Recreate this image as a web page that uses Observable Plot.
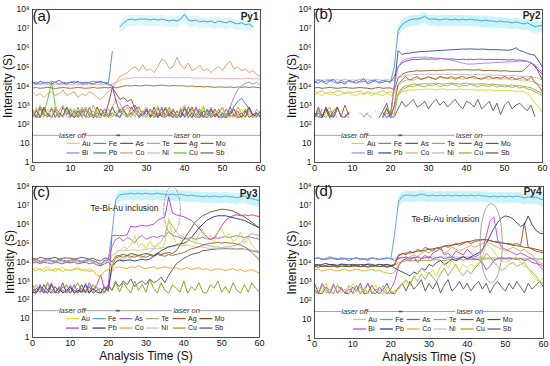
<!DOCTYPE html>
<html><head><meta charset="utf-8">
<script src="https://cdn.jsdelivr.net/npm/d3@7"></script>
<script src="https://cdn.jsdelivr.net/npm/@observablehq/plot@0.6"></script>
<style>
html,body{margin:0;padding:0;background:#fff;}
#wrap{position:relative;width:550px;height:366px;overflow:hidden;font-family:"Liberation Sans",Arial,sans-serif;}
</style></head><body><div id="wrap"></div>
<script>
// ---- categories / tick labels ----
const elements = ["Au","Fe","As","Te","Ag","Mo","Bi","Pb","Co","Ni","Cu","Sb"];
const panelLabels = ["(a)","(b)","(c)","(d)"];
const sampleNames = ["Py1","Py2","Py3","Py4"];
const xTicks = [0,10,20,30,40,50,60];
const yTicks = [1,10,1e2,1e3,1e4,1e5,1e6,1e7,1e8];
const times = d3.range(0,61,1); // analysis time grid (s)

// ---- series values: log10 intensity (cps) at each second, null = below detection ----
// Py1
const a_Au=[2.4,2.9,2.5,2.35,2.8,2.4,3.0,2.5,2.35,2.7, 2.9,2.4,2.6,2.35,2.9,2.5,2.4,2.8,2.35,2.6, 2.4,2.35,2.6,2.9,2.5,2.35,2.8,2.4,2.9,2.5, 2.35,2.7,2.4,3.0,2.5,2.35,2.8,2.6,2.35,2.9, 2.5,2.4,2.8,2.35,2.6,3.0,2.4,2.35,2.7,2.5, 2.9,2.4,2.35,2.6,2.4,2.8,2.35,2.5,2.4,2.35, 2.6];
const a_Fe=[4.15,4.2,4.1,4.2,4.15,4.25,4.2,4.1,4.2,4.15, 4.2,4.25,4.15,4.2,4.1,4.2,4.25,4.2,4.15,4.2, 4.15,5.8,null,7.1,7.3,7.45,7.5,7.45,7.5,7.5, 7.5,7.45,7.5,7.45,7.5,7.45,7.4,7.45,7.4,7.5, 7.75,7.45,7.4,7.45,7.35,7.4,7.35,7.4,7.3,7.4, 7.35,7.3,7.4,7.3,7.25,7.3,7.2,7.25,7.1,null, null];
const a_As=[4.2,4.1,4.25,4.15,4.2,4.1,4.2,4.3,4.15,4.1, 4.2,4.15,4.25,4.1,4.2,4.15,4.1,4.2,4.25,4.15, 4.1,4.0,3.2,2.6,2.9,3.0,2.8,3.0,2.6,2.4, 2.8,2.35,2.6,2.9,2.4,2.35,2.7,2.5,2.35,2.8, 2.4,2.6,2.35,2.9,2.5,2.35,2.7,2.4,2.8,2.35, 2.6,2.4,2.9,2.5,2.35,2.4,2.7,2.35,2.5,2.6, 2.4];
const a_Te=[2.8,2.4,3.0,2.6,2.35,2.9,2.4,2.7,3.0,2.4, 2.35,2.8,2.5,2.9,2.4,2.35,3.0,2.6,2.4,2.8, 2.5,2.9,3.3,3.1,2.7,2.9,2.5,2.8,2.35,2.6, 2.9,2.4,2.7,2.35,2.8,2.5,2.9,2.4,2.35,2.7, 3.0,2.5,2.35,2.8,2.4,2.7,2.5,2.9,2.35,2.6, 2.4,2.8,2.5,2.35,2.9,2.6,2.4,2.7,2.35,2.8, 2.5];
const a_Ag=[2.35,2.7,2.4,2.9,2.5,2.35,2.8,2.6,2.4,2.9, 2.5,2.35,2.7,2.4,2.8,2.6,2.35,2.9,2.5,2.4, 3.1,3.9,3.6,3.3,3.4,3.2,3.3,2.8,2.9,2.5, 2.7,2.4,2.9,2.35,2.6,2.8,2.4,2.7,2.5,2.35, 2.8,2.6,2.9,2.4,2.35,2.7,2.5,2.8,2.4,2.6, 2.9,2.35,2.5,2.8,2.4,2.6,2.35,2.9,2.5,2.4, 2.7];
const a_Mo=[3.9,3.92,3.88,3.9,3.93,3.9,3.87,3.9,3.92,3.9, 3.88,3.9,3.93,3.9,3.88,3.9,3.92,3.89,3.9,3.92, 3.9,3.95,3.9,3.95,4.0,4.02,4.0,4.03,4.0,4.02, 4.05,4.02,4.0,4.03,4.05,4.02,4.0,4.03,4.0,4.02, 4.0,3.98,4.0,3.97,3.98,3.95,3.97,3.95,3.93,3.95, 3.95,3.93,3.95,3.92,3.95,3.93,3.95,3.92,3.95,3.93, 3.9];
const a_Bi=[2.5,2.35,2.8,2.4,2.6,2.35,2.9,2.5,2.4,2.7, 2.35,2.6,2.4,2.8,2.35,2.5,2.7,2.4,2.35,2.6, 2.8,2.4,2.6,2.35,2.7,2.5,2.4,2.8,2.35,2.6, 2.4,2.7,2.35,2.5,2.8,2.4,2.6,2.35,2.7,2.4, 2.5,2.35,2.8,2.4,2.6,2.35,2.7,2.4,2.5,2.35, 2.6,2.5,2.9,3.4,3.8,4.0,4.15,4.2,4.1,4.2, 4.0];
const a_Pb=[2.6,2.35,2.9,2.5,2.4,2.8,2.35,2.6,2.4,2.9, 2.4,2.7,2.35,2.6,2.9,2.4,2.5,2.35,2.8,2.5, 2.4,2.9,2.5,2.35,2.7,2.4,2.6,2.8,2.35,2.5, 2.8,2.4,2.6,2.35,2.9,2.4,2.5,2.8,2.35,2.6, 2.4,2.9,2.5,2.35,2.7,2.4,2.8,2.35,2.5,2.6, 2.4,2.35,2.6,2.9,3.2,3.35,3.1,2.8,2.5,2.6, 2.4];
const a_Co=[3.7,3.5,3.6,3.4,3.6,3.7,3.5,3.6,3.8,3.5, 3.6,3.7,3.4,3.6,3.5,3.7,3.6,3.4,3.3,3.5, 3.7,3.9,4.2,4.5,4.6,4.7,4.9,5.0,4.8,5.1, 4.8,4.9,4.7,5.0,5.4,5.3,4.9,5.0,5.5,5.1, 4.9,5.2,4.8,4.9,5.1,4.8,4.9,4.7,4.9,5.0, 4.8,5.1,5.3,4.9,5.0,4.8,4.9,4.7,4.8,4.6, 4.5];
const a_Ni=[4.05,4.1,4.05,4.1,4.08,4.05,4.1,4.05,4.1,4.08, 4.05,4.1,4.08,4.05,4.1,4.05,4.08,4.1,4.05,4.1, 4.05,4.1,4.2,4.3,4.35,4.4,4.42,4.45,4.43,4.45, 4.45,4.42,4.45,4.43,4.45,4.42,4.45,4.43,4.42,4.45, 4.43,4.45,4.42,4.4,4.42,4.4,4.42,4.4,4.38,4.4, 4.4,4.38,4.4,4.38,4.4,4.37,4.38,4.4,4.37,4.38, 4.35];
const a_Cu=[2.4,2.8,2.35,2.6,3.3,4.2,3.0,2.5,2.35,2.8, 2.6,2.4,2.9,2.35,2.7,2.5,2.35,2.8,2.4,2.6, 2.35,2.9,2.5,2.4,2.8,2.35,2.6,2.4,2.9,2.5, 2.35,2.7,2.4,2.8,2.6,2.35,2.9,2.5,2.4,2.7, 2.35,2.6,2.8,2.4,2.5,2.9,2.35,2.6,2.4,2.8, 2.5,2.35,2.7,2.4,2.6,2.35,2.8,2.5,2.35,2.6, 2.4];
const a_Sb=[2.7,2.4,2.35,2.8,2.5,2.4,2.7,2.35,2.9,2.5, 2.8,2.35,2.5,2.7,2.4,2.9,2.35,2.6,2.5,2.8, 2.35,2.6,2.4,2.8,2.5,2.35,2.9,2.6,2.4,2.7, 2.5,2.8,2.35,2.6,2.4,2.9,2.5,2.35,2.7,2.4, 2.9,2.35,2.6,2.5,2.8,2.4,2.35,2.7,2.6,2.4, 2.35,2.8,2.4,2.5,2.7,2.35,2.6,2.9,2.4,2.5, 2.35];
// Py2
const b_Au=[3.55,3.6,3.5,3.65,3.55,3.6,3.5,3.55,3.65,3.6, 3.55,3.5,3.6,3.55,3.65,3.5,3.6,3.55,3.5,3.6, 3.55,3.3,3.5,3.7,3.75,3.8,3.78,3.82,3.8,3.85, 3.82,3.85,3.8,3.83,3.85,3.8,3.82,3.8,3.85,3.82, 3.8,3.83,3.8,3.78,3.8,3.77,3.8,3.78,3.75,3.78, 3.75,3.77,3.75,3.72,3.73,3.7,3.6,3.4,3.1,2.9, 2.6];
const b_Fe=[4.2,4.3,4.2,4.25,4.3,4.2,4.15,4.3,4.2,4.25, 4.2,4.3,4.2,4.25,4.2,4.3,4.25,4.2,4.3,4.25, 4.2,5.0,6.9,7.2,7.35,7.45,7.5,7.5,7.55,7.65, 7.5,7.5,7.5,7.45,7.5,7.5,7.45,7.5,7.45,7.5, 7.45,7.5,7.45,7.45,7.4,7.45,7.4,7.4,7.35,7.4, 7.35,7.35,7.3,7.35,7.3,7.25,7.3,7.2,7.1,7.15, 7.15];
const b_As=[4.2,4.15,4.3,4.1,4.25,4.35,4.15,4.2,4.1,4.3, 4.2,4.15,4.25,4.4,4.1,4.2,4.3,4.15,4.2,4.25, 4.2,4.5,5.0,5.2,5.3,5.35,5.4,5.38,5.4,5.42, 5.4,5.42,5.4,5.43,5.42,5.4,5.42,5.4,5.38,5.4, 5.38,5.4,5.38,5.4,5.4,5.38,5.4,5.38,5.4,5.38, 5.38,5.36,5.38,5.35,5.36,5.33,5.3,5.2,5.0,4.8, 4.6];
const b_Te=[2.35,2.8,2.5,2.35,2.7,2.4,null,null,null,2.6, null,null,null,null,2.5,2.35,null,null,null,2.8, 2.4,2.9,3.5,3.8,3.9,4.0,3.95,4.05,4.0,3.95, 4.05,4.0,4.1,3.95,4.05,4.0,4.1,4.05,3.95,4.05, 4.0,4.08,4.02,3.95,4.05,4.0,3.98,4.05,3.95,4.0, 3.95,4.0,3.92,3.98,3.9,3.95,3.85,3.8,3.7,3.6, 3.5];
const b_Ag=[2.35,2.9,2.4,2.8,2.35,2.7,2.9,2.4,3.0,2.5, null,null,null,2.4,2.6,null,null,null,2.35,2.8, 2.35,3.0,4.1,4.3,4.5,4.3,4.4,4.5,4.35,4.4, 4.5,4.4,4.35,4.5,4.45,4.4,4.5,4.35,4.45,4.5, 4.4,4.45,4.5,4.4,4.35,4.45,4.5,4.4,4.45,4.4, 4.5,4.4,4.45,4.35,4.4,4.45,4.3,4.5,4.2,4.0, 3.7];
const b_Mo=[3.9,3.92,3.88,3.9,3.93,3.9,3.88,3.9,3.92,3.9, 3.88,3.9,3.92,3.9,3.88,3.85,3.9,3.92,3.88,3.9, 3.9,3.8,4.4,4.6,4.7,4.75,4.77,4.8,4.78,4.8, 4.8,4.82,4.8,4.83,4.82,4.85,4.83,4.85,4.84,4.85, 4.85,4.84,4.83,4.85,4.82,4.8,4.82,4.8,4.8,4.78, 4.8,4.78,4.76,4.77,4.75,4.8,5.0,5.2,5.1,4.7, 4.3];
const b_Bi=[2.5,2.35,2.8,null,null,2.6,2.35,null,null,2.4, null,null,null,null,null,2.5,null,null,2.35,2.6, 2.35,4.0,5.0,5.3,5.4,5.45,5.48,5.5,5.5,5.52, 5.5,5.48,5.46,5.45,5.42,5.4,5.35,5.3,5.25,5.2, 5.15,5.15,5.15,5.17,5.18,5.2,5.2,5.22,5.23,5.24, 5.25,5.26,5.27,5.28,5.3,5.3,5.28,5.2,5.1,4.9, 4.7];
const b_Pb=[2.6,2.4,2.35,2.9,2.5,2.35,2.8,null,2.4,2.6, null,null,null,null,null,null,null,null,2.6,2.35, 2.5,4.0,5.85,5.65,5.7,5.72,5.75,5.78,5.8,5.8, 5.82,5.83,5.85,5.86,5.87,5.88,5.9,5.9,5.92,5.93, 5.93,5.94,5.93,5.92,5.93,5.92,5.9,5.9,5.9,5.89, 5.88,5.87,5.9,6.0,5.85,5.8,5.7,5.65,5.6,5.3, 5.0];
const b_Co=[3.7,3.65,3.75,3.6,3.7,3.65,3.75,3.7,3.6,3.7, 3.65,3.7,3.75,3.6,3.7,3.65,3.6,3.7,3.75,3.65, 3.7,3.6,4.0,4.2,4.3,4.35,4.3,4.4,4.35,4.4, 4.45,4.4,4.35,4.45,4.4,4.42,4.38,4.45,4.4,4.35, 4.4,4.45,4.4,4.38,4.42,4.4,4.35,4.4,4.38,4.35, 4.38,4.35,4.32,4.35,4.3,4.32,4.28,4.25,4.2,4.1, 4.0];
const b_Ni=[4.3,4.35,4.3,4.32,4.35,4.3,4.33,4.3,4.35,4.3, 4.32,4.3,4.35,4.3,4.33,4.3,4.35,4.32,4.3,4.33, 4.3,4.3,4.45,4.5,4.55,4.57,4.6,4.6,4.62,4.6, 4.62,4.6,4.63,4.6,4.62,4.6,4.62,4.6,4.61,4.6, 4.6,4.58,4.6,4.58,4.6,4.57,4.58,4.56,4.57,4.55, 4.55,4.54,4.55,4.53,4.52,4.5,4.5,4.48,4.45,4.4, 4.3];
const b_Cu=[2.4,2.7,2.35,2.6,2.9,2.4,null,null,2.5,2.35, null,null,2.6,2.4,null,null,2.7,null,2.4,2.9, 2.6,2.5,3.6,3.9,4.0,4.05,4.1,4.08,4.1,4.12, 4.1,4.12,4.15,4.12,4.1,4.13,4.15,4.12,4.1,4.12, 4.15,4.12,4.1,4.1,4.12,4.1,4.08,4.1,4.07,4.05, 4.05,4.03,4.05,4.0,4.02,3.98,3.95,3.9,3.8,3.7, 3.6];
const b_Sb=[2.35,2.6,2.4,2.8,2.35,2.5,2.9,2.4,2.35,2.6, null,null,null,null,null,null,null,2.35,2.7,3.1, 2.35,2.4,2.8,3.2,2.9,3.1,3.3,2.9,3.0,3.2, 2.8,3.1,3.3,3.0,3.2,2.9,3.1,3.3,3.0,2.8, 3.2,3.1,2.9,3.3,2.8,3.0,3.2,2.7,3.1,2.5, 3.0,3.2,2.8,3.0,3.1,2.9,2.7,3.0,2.4,null, null];
// Py3
const c_Au=[3.6,3.7,3.55,3.65,3.75,3.6,3.5,3.65,3.7,3.6, 3.55,3.65,3.7,3.6,3.5,3.65,3.55,3.3,3.2,3.5, 3.6,3.8,4.4,4.6,4.8,4.7,4.9,5.4,4.8,5.0, 4.7,5.1,4.8,4.9,4.7,5.0,6.3,5.4,5.0,4.9, 4.8,5.1,5.3,5.0,5.5,5.7,5.2,5.4,5.0,5.6, 5.8,5.3,5.5,5.1,5.2,5.6,5.0,5.3,4.9,4.7, 4.5];
const c_Fe=[4.05,4.1,4.0,4.05,4.1,4.05,4.0,4.1,4.05,4.0, 4.05,4.1,4.05,4.0,4.05,4.1,4.05,4.0,3.9,4.05, 4.1,5.5,7.3,7.55,7.6,7.6,7.65,7.6,7.65,7.6, 7.65,7.6,7.6,7.65,7.6,7.6,7.55,7.6,7.55,7.6, 7.55,7.5,7.55,7.5,7.5,7.45,7.5,7.45,7.5,7.45, 7.45,7.5,7.45,7.45,7.4,7.45,7.5,7.4,7.35,7.3, 7.25];
const c_As=[4.1,4.15,4.05,4.1,4.2,4.1,4.05,4.15,4.1,4.05, 4.1,4.15,4.1,4.05,4.1,4.15,4.05,4.0,3.8,4.1, 4.1,4.8,5.2,5.3,5.1,5.3,5.2,5.0,5.3,5.4, 5.2,5.3,5.35,5.3,5.4,5.35,5.6,5.4,5.35,5.3, 5.2,5.25,5.3,5.2,5.25,5.3,5.25,5.2,5.3,5.25, 5.3,5.35,5.3,5.35,5.4,5.35,5.3,5.35,5.3,5.25, 5.2];
const c_Te=[2.4,2.8,2.35,2.6,2.9,2.4,2.35,2.7,2.5,2.35, 2.8,2.4,2.6,2.35,2.9,2.5,2.4,2.7,2.35,2.6, 2.4,3.6,4.0,4.2,4.1,4.3,4.2,4.4,4.3,4.2, 4.4,4.5,4.7,4.9,5.1,5.4,6.2,5.9,5.6,5.4, 5.3,5.2,5.1,5.0,5.0,4.9,4.9,4.85,4.8,4.8, 4.75,4.8,4.8,4.85,4.9,5.0,5.2,5.4,5.5,5.45, 5.4];
const c_Ag=[3.95,4.0,3.9,4.0,3.95,3.9,4.0,3.95,3.9,4.0, 3.95,4.0,3.9,3.95,4.0,3.9,3.95,3.85,3.8,3.9, 4.0,3.8,4.2,4.3,4.25,4.35,4.3,4.25,4.35,4.3, 4.25,4.35,4.3,4.4,4.35,4.3,4.4,4.35,4.4,4.45, 4.5,4.6,4.7,4.75,4.8,4.9,4.95,5.0,5.0,5.05, 5.0,5.05,5.0,5.0,4.95,4.9,4.8,4.7,4.5,4.3, 4.1];
const c_Mo=[4.2,4.15,4.25,4.2,4.15,4.2,4.25,4.15,4.2,4.22, 4.2,4.15,4.2,4.25,4.2,4.15,4.2,4.1,4.05,4.2, 4.2,4.0,4.3,4.35,4.4,4.35,4.45,4.4,4.35,4.4, 4.45,4.4,4.35,4.45,4.4,4.45,4.5,4.45,4.6,4.9, 5.2,5.5,5.8,6.1,6.3,6.45,6.55,6.65,6.7,6.75, 6.8,6.78,6.75,6.7,6.6,6.5,6.4,6.25,6.1,5.95, 5.8];
const c_Bi=[2.6,2.4,2.8,2.35,2.5,2.9,2.4,2.35,2.7,2.5, 2.35,2.8,2.4,2.6,2.35,2.9,2.5,2.8,3.3,2.6, 2.5,5.4,5.4,5.4,5.4,5.45,5.9,5.85,5.9,5.95, 5.9,5.95,6.0,6.2,6.3,6.4,7.45,6.6,6.5,6.45, 6.4,6.3,6.2,6.0,5.8,5.55,5.35,5.2,5.25,5.6, 5.9,6.2,6.35,6.45,6.5,6.45,6.5,6.45,6.5,6.45, 6.4];
const c_Pb=[2.4,2.35,2.7,2.5,2.35,2.8,2.4,2.6,2.35,2.5, 2.7,2.35,2.5,2.4,2.8,2.35,2.6,2.4,2.35,2.7, 2.5,3.8,4.0,4.1,4.05,4.1,4.1,4.05,4.1,4.15, 4.1,4.15,4.3,4.45,4.6,4.7,4.8,4.85,4.9,4.95, 5.0,5.1,5.3,5.55,5.8,6.0,6.2,6.3,6.4,6.45, 6.45,6.45,6.4,6.35,6.3,6.25,6.2,6.1,6.0,5.9, 5.8];
const c_Co=[3.6,3.55,3.65,3.5,3.6,3.55,3.65,3.6,3.5,3.6, 3.55,3.6,3.65,3.55,3.6,3.5,3.55,3.3,3.25,3.5, 3.6,3.5,3.7,3.75,3.7,3.65,3.75,3.7,3.8,3.7, 3.65,3.7,3.75,3.65,3.7,3.75,3.7,3.65,3.7,3.6, 3.65,3.7,3.6,3.65,3.7,3.6,3.65,3.55,3.6,3.65, 3.6,3.55,3.6,3.65,3.55,3.6,3.5,3.55,3.6,3.5, 3.4];
const c_Ni=[4.0,4.02,3.98,4.0,4.03,4.0,3.98,4.02,4.0,3.98, 4.0,4.02,4.0,3.98,4.0,4.02,3.98,3.95,3.9,4.0, 4.0,4.3,4.55,4.6,4.62,4.6,4.63,4.65,4.6,4.65, 4.68,4.7,4.72,4.7,4.75,4.78,4.8,4.82,4.85,4.88, 4.9,4.88,4.85,4.82,4.8,4.78,4.75,4.73,4.72,4.7, 4.7,4.68,4.7,4.68,4.66,4.65,4.66,4.64,4.62,4.6, 4.6];
const c_Cu=[2.8,2.4,2.6,2.35,2.9,2.5,2.35,2.7,2.4,2.8, 2.35,2.6,2.9,2.4,2.5,2.35,2.8,2.6,2.4,2.35, 2.7,2.5,3.0,2.4,2.9,2.6,2.35,3.0,2.5,2.8, 2.4,3.1,2.6,2.35,2.9,2.5,2.35,2.8,2.6,2.4, 3.0,2.35,2.7,2.5,2.9,2.4,2.35,2.8,2.6,3.0, 2.4,2.7,2.35,2.9,2.5,2.35,2.8,2.4,2.9,2.6, 2.4];
const c_Sb=[2.35,2.6,2.4,2.8,2.5,2.35,2.7,2.4,2.9,2.35, 2.6,2.5,2.35,2.8,2.4,2.7,2.35,2.5,2.6,2.4, 2.8,2.5,2.9,2.7,3.0,2.8,3.1,2.7,2.9,3.0, 2.8,3.1,2.9,3.0,3.2,2.9,3.3,3.6,3.9,4.05, 4.2,4.3,4.4,4.45,4.5,4.6,4.62,4.65,4.68,4.7, 4.7,4.72,4.7,4.7,4.68,4.7,4.68,4.65,4.6,4.55, 4.5];
// Py4
const d_Au=[2.35,2.7,2.4,2.9,2.5,2.35,2.8,2.4,2.6,2.35, 2.9,2.5,2.4,2.7,2.35,2.6,2.8,2.4,2.35,2.7, 2.5,2.4,2.6,2.9,3.0,2.8,3.2,3.4,3.7,3.5, 3.4,3.6,3.3,3.8,4.0,3.7,4.1,3.8,3.6,3.9, 3.7,3.9,3.8,4.0,4.3,5.0,4.8,4.6,4.3,4.1, 4.0,4.1,4.2,4.3,4.0,3.8,3.7,3.4,3.1,3.0, 3.2];
const d_Fe=[4.2,4.25,4.2,4.15,4.2,4.25,4.2,4.15,4.2,4.22, 4.2,4.25,4.2,4.18,4.2,4.25,4.2,4.15,4.2,4.22, 4.2,5.5,7.2,7.5,7.55,7.55,7.5,7.55,7.6,7.55, 7.5,7.55,7.5,7.55,7.5,7.55,7.5,7.55,7.5,7.55, 7.5,7.55,7.5,7.55,7.5,7.5,7.45,7.5,7.45,7.5, 7.45,7.5,7.45,7.5,7.45,7.4,7.45,7.4,7.45,7.35, 7.3];
const d_As=[4.2,4.25,4.15,4.2,4.3,4.2,4.15,4.25,4.2,4.1, 4.2,4.25,4.15,4.2,4.1,4.25,4.2,4.15,4.2,4.25, 4.2,4.1,4.2,4.25,4.3,4.2,4.25,4.3,4.2,4.25, 4.3,4.2,4.25,4.3,4.2,4.25,4.3,4.2,4.25,4.3, 4.2,4.25,4.2,4.15,4.0,3.6,3.8,4.1,4.2,4.25, 4.2,4.25,4.2,4.15,4.2,4.1,4.15,4.0,3.95,3.9, 3.8];
const d_Te=[2.6,2.35,2.8,2.4,2.5,2.9,2.35,2.6,2.4,2.8, 2.35,2.5,2.7,2.4,2.9,2.35,2.6,2.5,2.8,2.4, 2.35,2.5,2.6,2.9,3.1,2.8,3.3,3.0,3.4,3.1, 3.5,3.2,3.0,3.4,3.7,3.3,3.6,3.9,3.5,3.3, 3.6,3.4,3.7,3.9,4.1,4.5,4.3,4.0,3.8,3.6, 3.7,3.9,4.0,3.8,3.9,4.0,3.7,3.5,3.3,3.0, 2.9];
const d_Ag=[3.85,3.9,3.8,3.85,3.9,3.85,3.8,3.9,3.85,3.8, 3.85,3.9,3.8,3.85,3.9,3.8,3.85,3.9,3.85,3.8, 3.85,3.9,4.3,4.5,4.4,4.6,4.5,4.7,4.6,4.8, 4.7,4.6,4.8,4.7,4.9,4.8,4.9,5.0,4.9,5.0, 5.1,5.0,5.1,5.15,5.2,5.2,5.15,5.1,5.1,5.05, 5.0,5.0,4.95,5.0,4.9,6.1,4.8,4.7,4.6,4.55, 4.5];
const d_Mo=[3.8,3.75,3.82,3.8,3.78,3.8,3.75,3.82,3.8,3.78, 3.8,3.82,3.78,3.8,3.75,3.8,3.82,3.78,3.8,3.75, 3.8,3.9,4.4,4.45,4.5,4.5,4.55,4.6,4.6,4.65, 4.7,4.72,4.75,4.8,4.85,4.9,4.92,4.95,5.0,5.05, 5.1,5.12,5.18,5.2,5.2,5.2,5.15,5.1,5.05,5.02, 5.0,4.95,4.9,4.88,4.85,4.8,4.78,4.75,4.7,4.65, 4.6];
const d_Bi=[2.5,2.35,2.9,2.6,2.35,2.8,2.4,2.7,2.35,2.6, 2.4,2.8,2.35,2.6,2.9,2.4,2.35,2.7,2.5,2.35, 2.6,3.0,3.8,4.1,4.2,4.1,4.3,4.0,4.2,4.4, 4.2,4.5,4.6,4.8,4.4,4.5,4.3,4.6,4.5,4.4, 4.7,4.5,4.3,4.4,4.6,5.4,6.2,6.4,5.2,4.8, 4.7,4.6,4.5,4.4,4.5,4.4,4.3,4.2,4.1,3.8, 3.6];
const d_Pb=[3.9,3.85,3.9,3.95,3.88,3.9,3.85,3.92,3.9,3.88, 3.9,3.85,3.9,3.88,3.92,3.9,3.85,3.9,3.88,3.9, 3.85,3.7,3.6,3.5,3.4,3.3,3.5,3.4,3.7,3.6, 3.9,3.8,4.0,4.1,3.9,4.0,4.2,4.1,4.2,4.3, 4.2,4.3,4.4,4.5,4.7,5.0,5.4,5.8,6.1,6.35, 6.45,6.4,6.3,6.1,5.9,6.0,6.45,6.0,5.7,5.55, 5.5];
const d_Co=[3.6,3.65,3.55,3.6,3.65,3.6,3.55,3.6,3.65,3.55, 3.6,3.65,3.6,3.55,3.6,3.65,3.55,3.6,3.5,3.45, 3.4,3.5,3.9,4.1,4.2,4.3,4.4,4.3,4.5,4.6, 4.5,4.7,4.6,4.7,4.5,4.6,4.8,4.7,4.6,4.7, 4.8,4.9,4.8,4.9,5.0,5.1,5.0,4.9,4.8,4.7, 4.6,4.7,4.8,4.7,4.6,4.7,4.5,4.4,4.2,4.0, 3.9];
const d_Ni=[4.2,4.22,4.18,4.2,4.22,4.2,4.18,4.2,4.22,4.2, 4.18,4.2,4.22,4.2,4.18,4.2,4.22,4.2,4.18,4.2, 4.2,4.22,4.25,4.27,4.25,4.28,4.26,4.28,4.27,4.3, 4.28,4.3,4.27,4.3,4.28,4.3,4.29,4.3,4.28,4.3, 4.3,4.28,4.3,4.27,4.28,4.26,4.28,4.25,4.27,4.25, 4.25,4.24,4.25,4.22,4.24,4.22,4.2,4.22,4.2,4.18, 4.15];
const d_Cu=[3.8,3.85,3.78,3.82,3.8,3.85,3.8,3.78,3.82,3.8, 3.85,3.8,3.78,3.82,3.8,3.85,3.78,3.8,3.82,3.8, 3.8,3.85,4.0,4.05,4.1,4.08,4.1,4.12,4.1,4.12, 4.1,4.13,4.15,4.12,4.1,4.14,4.15,4.12,4.15,4.13, 4.15,4.17,4.15,4.18,4.2,4.18,4.2,4.17,4.2,4.18, 4.2,4.18,4.2,4.22,4.2,4.18,4.2,4.22,4.2,4.18, 4.2];
const d_Sb=[2.9,2.4,2.35,2.7,2.5,2.35,2.8,2.6,2.4,2.35, 2.7,2.5,2.9,2.35,2.4,2.8,2.5,2.35,2.6,2.9, 2.4,2.35,2.7,2.9,2.5,3.0,2.6,2.8,3.1,2.5, 2.9,2.6,3.0,2.4,2.8,3.1,2.5,2.7,3.0,2.6, 2.9,2.5,2.8,3.0,2.6,2.9,2.4,2.8,3.0,2.7, 2.5,2.9,2.6,3.0,2.7,2.4,2.9,2.6,2.8,3.0, 2.7];

const py1 = [a_Au,a_Fe,a_As,a_Te,a_Ag,a_Mo,a_Bi,a_Pb,a_Co,a_Ni,a_Cu,a_Sb];
const py2 = [b_Au,b_Fe,b_As,b_Te,b_Ag,b_Mo,b_Bi,b_Pb,b_Co,b_Ni,b_Cu,b_Sb];
const py3 = [c_Au,c_Fe,c_As,c_Te,c_Ag,c_Mo,c_Bi,c_Pb,c_Co,c_Ni,c_Cu,c_Sb];
const py4 = [d_Au,d_Fe,d_As,d_Te,d_Ag,d_Mo,d_Bi,d_Pb,d_Co,d_Ni,d_Cu,d_Sb];

// ---- colours (element order) ----
const colorsA = ["#e6d81e","#4a88d8","#7a40b8","#e8906c","#9c3418","#8c6c22","#a678d8","#357c96","#d89a5a","#f0aab8","#52be3e","#666666"];
const colorsB = ["#d8d81c","#4a8ee0","#7444bc","#8fb060","#b0481e","#7c5c16","#b47ae0","#2a4a88","#cdb46a","#bbbbbb","#a4a818","#4f5f4f"];
const colorsC = ["#d4dc2a","#5a9ae2","#9a60d0","#9ab878","#a8582a","#6e4a14","#c030d0","#1c2e78","#e0a428","#c4c4c4","#8a9a10","#505050"];
const colorsD = ["#d8d820","#5a9ae2","#8a48c8","#8fb060","#a04a28","#6a4818","#c040d8","#1f3a80","#dca830","#c0c0c0","#a0a010","#555555"];

// ---- layout ----
const drawOrder = ["Sb","Cu","Te","Co","Ni","Mo","Ag","As","Pb","Bi","Au","Fe"];
const sup = {2:"²",3:"³",4:"⁴",5:"⁵",6:"⁶",7:"⁷",8:"⁸"};
const supFmt = v => v===1 ? "1" : v===10 ? "10" : "10" + sup[Math.round(Math.log10(v))];
const laserY = Math.pow(10,1.42);
const laserSegs = [[0,7.2],[13.9,37.0],[44.3,60]];
const font = "Liberation Sans, Arial, sans-serif";

const panels = [
  {series:py1, colors:colorsA, left:0, top:0, m:[9,15,21,32], legendX:9.1, labDy:6.5, pyDy:7, ylabDx:-24, xLabel:false, band:0.55},
  {series:py2, colors:colorsB, left:275, top:0, m:[9,8,21,39], legendX:9.9, labDy:5, pyDy:6, ylabDx:-22, xLabel:false, band:0.85},
  {series:py3, colors:colorsC, left:0, top:183, m:[3,16,29,32], legendX:9.0, labDy:6, pyDy:7.5, ylabDx:-22, xLabel:true, band:0.85,
    note:{t:24.3, L:6.83, ex:36.9, ey:6.75, rx:2.2, ry:1.24, dash:"4,2,1,2"}},
  {series:py4, colors:colorsD, left:275, top:183, m:[3,7,28,39], legendX:10.2, labDy:5, pyDy:5.5, ylabDx:-22, xLabel:true, band:0.85,
    note:{t:34.3, L:6.3, ex:46.3, ey:5.02, rx:2.9, ry:2.07, dash:null}}
];

const wrap = document.getElementById("wrap");
panels.forEach((p,pi) => {
  const rows = [];
  elements.forEach((el,k) => {
    p.series[k].forEach((L,i) => rows.push({el, t: times[i], v: L==null ? NaN : Math.pow(10,L)}));
  });
  const col = el => p.colors[elements.indexOf(el)];
  const feRows = rows.filter(d => d.el==="Fe" && d.v >= Math.pow(10,6.5));
  const legendRows = elements.map((el,i) => ({el, x1: p.legendX + 7.05*(i%6), row: Math.floor(i/6)}));
  const legY = r => r===0 ? 10 : Math.pow(10,0.5);
  const marks = [
    Plot.areaY(feRows, {x:"t", y1:d=>d.v/2.3, y2:d=>d.v*1.6, fill:"#bff2f7", fillOpacity:p.band}),
    ...drawOrder.map(el => Plot.line(rows.filter(d=>d.el===el), {x:"t", y:"v", stroke: col(el), strokeWidth:0.9, clip:true})),
    Plot.ruleY(laserSegs, {y: laserY, x1:d=>d[0], x2:d=>d[1], stroke:"#8a8a8a", strokeWidth:0.8}),
    Plot.ruleY([[22.2,23.2]], {y: laserY, x1:d=>d[0], x2:d=>d[1], stroke:"#555", strokeWidth:1.6}),
    Plot.ruleX([0,60], {x:d=>d, y1:Math.pow(10,1.3), y2:Math.pow(10,1.55), stroke:"#8a8a8a", strokeWidth:0.8}),
    Plot.text(["laser off"], {text:d=>d, x:10.5, y:laserY, fontStyle:"italic", fontSize:7.5, fill:"#333"}),
    Plot.text(["laser on"], {text:d=>d, x:40.7, y:laserY, fontStyle:"italic", fontSize:7.5, fill:"#333"}),
    Plot.ruleY(legendRows, {y:d=>legY(d.row), x1:"x1", x2:d=>d.x1+3.4, stroke:d=>col(d.el), strokeWidth:1.2}),
    Plot.text(legendRows, {x:d=>d.x1+3.9, y:d=>legY(d.row), text:"el", textAnchor:"start", fontSize:7, fill:"#222"}),
    Plot.frame({stroke:"#222", strokeWidth:0.8}),
    Plot.axisX({ticks:xTicks, tickSize:0, tickPadding:2, fontSize:9, label:null}),
    Plot.axisY({ticks:yTicks, tickFormat:supFmt, tickSize:0, tickPadding:3, fontSize:8.5, label:null}),
    Plot.text([panelLabels[pi]], {text:d=>d, frameAnchor:"top-left", dx:0, dy:p.labDy, fontSize:15, textAnchor:"start", lineAnchor:"middle", fill:"#111"}),
    Plot.text([sampleNames[pi]], {text:d=>d, frameAnchor:"top-right", dx:-2, dy:p.pyDy, fontSize:10, fontWeight:"bold", textAnchor:"end", lineAnchor:"middle", fill:"#222"}),
    Plot.text(["Intensity (S)"], {text:d=>d, frameAnchor:"left", dx:p.ylabDx, rotate:-90, fontSize:12, textAnchor:"middle", lineAnchor:"middle", fill:"#111"})
  ];
  if (p.xLabel) marks.push(Plot.text(["Analysis Time (S)"], {text:d=>d, frameAnchor:"bottom", dy:19, fontSize:12, lineAnchor:"middle", fill:"#111"}));
  if (p.note) {
    const n = p.note;
    const ell = d3.range(0,361,6).map(a => ({t: n.ex + n.rx*Math.cos(a*Math.PI/180), v: Math.pow(10, n.ey + n.ry*Math.sin(a*Math.PI/180))}));
    marks.push(Plot.line(ell, {x:"t", y:"v", stroke:"#9a9a9a", strokeWidth:0.9, strokeDasharray: n.dash || undefined, curve:"linear"}));
    marks.push(Plot.text(["Te-Bi-Au inclusion"], {text:d=>d, x:n.t, y:Math.pow(10,n.L), fontSize:8.5, fill:"#222"}));
  }
  const svg = Plot.plot({
    width:275, height:183,
    marginTop:p.m[0], marginRight:p.m[1], marginBottom:p.m[2], marginLeft:p.m[3],
    x:{domain:[0,60]},
    y:{type:"log", domain:[1,1e8]},
    color:{type:"identity"},
    style:{fontFamily:font, fontSize:"9px", color:"#111", background:"transparent", overflow:"visible"},
    marks
  });
  svg.style.position = "absolute";
  svg.style.left = p.left + "px";
  svg.style.top = p.top + "px";
  wrap.appendChild(svg);
});
</script></body></html>
